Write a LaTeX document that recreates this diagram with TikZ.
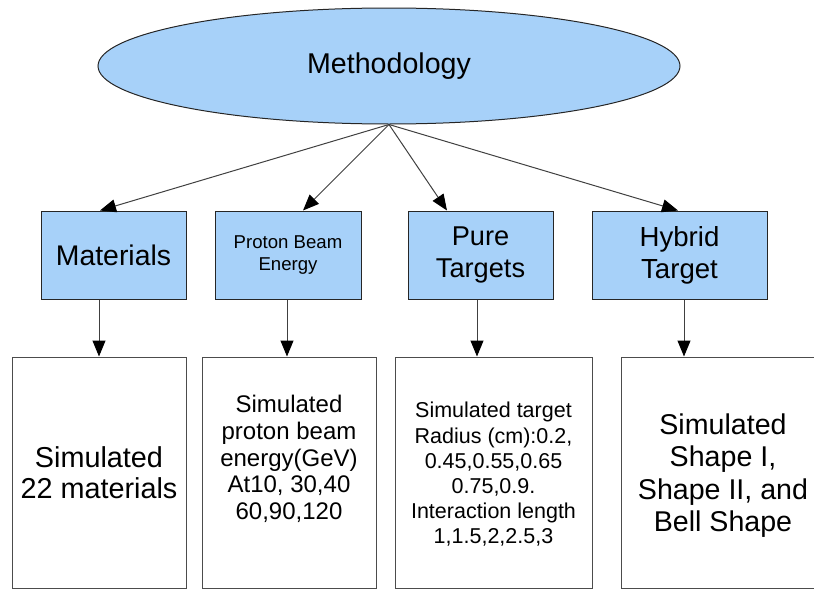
\documentclass[tikz,border=0pt]{standalone}
\usepackage{fontspec}
\setmainfont{Liberation Sans}
\usetikzlibrary{shapes.geometric, arrows.meta, positioning}
\definecolor{boxblue}{RGB}{167,209,249}
\tikzset{
    topic/.style={ellipse, draw=black!85, fill=boxblue, minimum width=291pt, minimum height=58pt, inner sep=0pt, line width=0.5pt},
    block/.style={rectangle, draw=black!85, fill=boxblue, minimum height=44pt, inner sep=0pt, align=center, line width=0.5pt},
    result/.style={rectangle, draw=black!70, fill=white, minimum height=115.5pt, inner sep=0pt, line width=0.5pt},
    restext/.style={align=center, inner sep=0pt},
    arrow/.style={-{Triangle[length=8pt, width=6.5pt, color=black]}, draw=black!75, line width=0.5pt},
}

\begin{document}
\begin{tikzpicture}[x=0.5pt, y=-0.5pt]
    \useasboundingbox (0,0) rectangle (814,589);

    % Root
    \node[topic, font=\fontsize{14.3}{16}\selectfont] (meth) at (389,66) {Methodology};

    % Second row
    \node[block, minimum width=72.5pt, font=\fontsize{14.2}{16}\selectfont] (mat) at (113.5,255) {Materials};
    \node[block, minimum width=73pt, font=\fontsize{9.3}{11}\selectfont] (beam) at (288,255) {Proton Beam\\Energy};
    \node[block, minimum width=72.5pt, font=\fontsize{13.6}{16}\selectfont] (pure) at (480.5,255) {Pure\\Targets};
    \node[block, minimum width=87.5pt, font=\fontsize{13.8}{16}\selectfont] (hyb) at (679.5,255) {Hybrid\\Target};

    % Results
    \node[result, minimum width=87pt] (rmat) at (99,472.5) {};
    \node[restext, font=\fontsize{14.4}{15.5}\selectfont] at (rmat) {Simulated\\22 materials};
    \node[result, minimum width=87pt] (rbeam) at (289,472.5) {};
    \node[restext, font=\fontsize{12}{13.3}\selectfont] at ([yshift=6.75pt]rbeam.center) {Simulated\\proton beam\\energy(GeV)\\At10, 30,40\\60,90,120};
    \node[result, minimum width=98.5pt] (rpure) at (493.5,472.5) {};
    \node[restext, font=\fontsize{10.75}{12.6}\selectfont] at ([yshift=-1pt]rpure.center) {Simulated target\\Radius (cm):0.2,\\0.45,0.55,0.65\\0.75,0.9.\\Interaction length\\1,1.5,2,2.5,3};
    \node[result, minimum width=102pt] (rhyb) at (723,472.5) {};
    \node[restext, font=\fontsize{14.3}{16.3}\selectfont] at ([yshift=-1.5pt]rhyb.center) {Simulated\\Shape I,\\Shape II, and\\Bell Shape};

    % Arrows from the root
    \draw[arrow] (meth.south) -- ([xshift=-6.75pt]mat.north);
    \draw[arrow] (meth.south) -- ([xshift=7.5pt]beam.north);
    \draw[arrow] (meth.south) -- ([xshift=-16.75pt]pure.north);
    \draw[arrow] (meth.south) -- ([xshift=-0.75pt]hyb.north);
    % Arrows down to the results
    \draw[arrow] ([xshift=-7.25pt]mat.south) -- ([xshift=-7.25pt]mat.south |- rmat.north);
    \draw[arrow] ([xshift=-0.5pt]beam.south) -- ([xshift=-0.5pt]beam.south |- rbeam.north);
    \draw[arrow] ([xshift=-1.75pt]pure.south) -- ([xshift=-1.75pt]pure.south |- rpure.north);
    \draw[arrow] ([xshift=2.25pt]hyb.south) -- ([xshift=2.25pt]hyb.south |- rhyb.north);
\end{tikzpicture}
\end{document}
